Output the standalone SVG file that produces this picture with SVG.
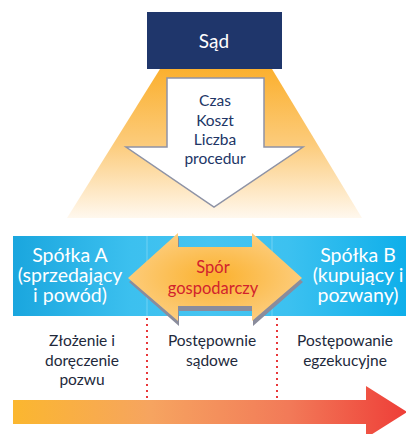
<svg xmlns="http://www.w3.org/2000/svg" width="406" height="434" viewBox="0 0 406 434">
<defs>
<linearGradient id="beam" x1="0" y1="0" x2="0" y2="1">
<stop offset="0" stop-color="#FBB02F"/>
<stop offset="0.5" stop-color="#FCCB7A"/>
<stop offset="1" stop-color="#FFF8EE"/>
</linearGradient>
<linearGradient id="band" x1="0" y1="0" x2="1" y2="0">
<stop offset="0" stop-color="#1AA6DE"/>
<stop offset="0.3" stop-color="#3CC0EF"/>
<stop offset="0.5" stop-color="#45C4F1"/>
<stop offset="0.7" stop-color="#3CC1F0"/>
<stop offset="1" stop-color="#0FAFEA"/>
</linearGradient>
<radialGradient id="dbl" cx="0.5" cy="0.5" r="0.6">
<stop offset="0" stop-color="#FBB12D"/>
<stop offset="1" stop-color="#FDD189"/>
</radialGradient>
<linearGradient id="time" x1="0" y1="0" x2="1" y2="0">
<stop offset="0" stop-color="#FBB72F"/>
<stop offset="0.35" stop-color="#F6A460"/>
<stop offset="0.7" stop-color="#F27A58"/>
<stop offset="1" stop-color="#EE3E38"/>
</linearGradient>
<style>
.t{font-family:Lato,"Open Sans",sans-serif;text-anchor:middle}
.w{fill:#FFFFFF}
.n{fill:#213566}
.d{fill:#22293B}
.r{fill:#D2232D}
.dot{stroke:#E8383A;stroke-width:2;stroke-dasharray:2 4;fill:none}
</style>
</defs>

<g id="beam-cone">
<polygon points="160,69 272,69 362,218 67,218" fill="url(#beam)"/>
</g>

<g id="sad">
<rect x="147" y="12" width="135" height="57" fill="#1F366B"/>
<text class="t w" x="214" y="48" font-size="19">Sąd</text>
</g>

<g id="factors">
<polygon points="167,78 264,78 264,147 303,147 214,207 126,147 167,147" fill="#FFFFFF" stroke="#8E93A6" stroke-width="1.5"/>
<text class="t n" font-size="15.5"><tspan x="215" y="106">Czas</tspan><tspan x="215" y="125.5">Koszt</tspan><tspan x="215" y="145">Liczba</tspan><tspan x="215" y="164">procedur</tspan></text>
</g>

<g id="band">
<rect x="13" y="236" width="393" height="80" fill="url(#band)"/>
<line x1="147" y1="236" x2="147" y2="316" stroke="#7FD6F5" stroke-width="0.8"/>
<line x1="272" y1="236" x2="272" y2="316" stroke="#7FD6F5" stroke-width="0.8"/>
</g>

<g id="spolka-a">
<text class="t w" font-size="19.5"><tspan x="70" y="262">Spółka A</tspan><tspan x="70" y="282">(sprzedający</tspan><tspan x="70" y="302">i powód)</tspan></text>
</g>

<g id="spolka-b">
<text class="t w" font-size="19.5"><tspan x="358" y="262">Spółka B</tspan><tspan x="358" y="282">(kupujący i</tspan><tspan x="358" y="302">pozwany)</tspan></text>
</g>

<g id="spor">
<polygon points="128,280 178,235 178,250 252,250 252,235 302,280 252,324 252,309 178,309 178,324" fill="#8A8C9C" transform="translate(1,2)"/>
<polygon points="128,278 178,233 178,247 252,247 252,233 302,278 252,321 252,306 178,306 178,321" fill="url(#dbl)"/>
<text class="t r" font-size="16.5"><tspan x="213" y="273">Spór</tspan><tspan x="213" y="294">gospodarczy</tspan></text>
</g>

<g id="connectors">
<line class="dot" x1="147" y1="318" x2="147" y2="400"/>
<line class="dot" x1="277" y1="318" x2="277" y2="400"/>
</g>

<g id="stage-1">
<text class="t d" font-size="15.5"><tspan x="82" y="346">Złożenie i</tspan><tspan x="82" y="365.5">doręczenie</tspan><tspan x="82" y="385">pozwu</tspan></text>
</g>
<g id="stage-2">
<text class="t d" font-size="15.5"><tspan x="212" y="346">Postępownie</tspan><tspan x="212" y="365.5">sądowe</tspan></text>
</g>
<g id="stage-3">
<text class="t d" font-size="15.5"><tspan x="345" y="346">Postępowanie</tspan><tspan x="345" y="365.5">egzekucyjne</tspan></text>
</g>

<g id="timeline">
<polygon points="13,400 366,400 366,386 407,412 366,438 366,424 13,424" fill="url(#time)"/>
</g>
</svg>
